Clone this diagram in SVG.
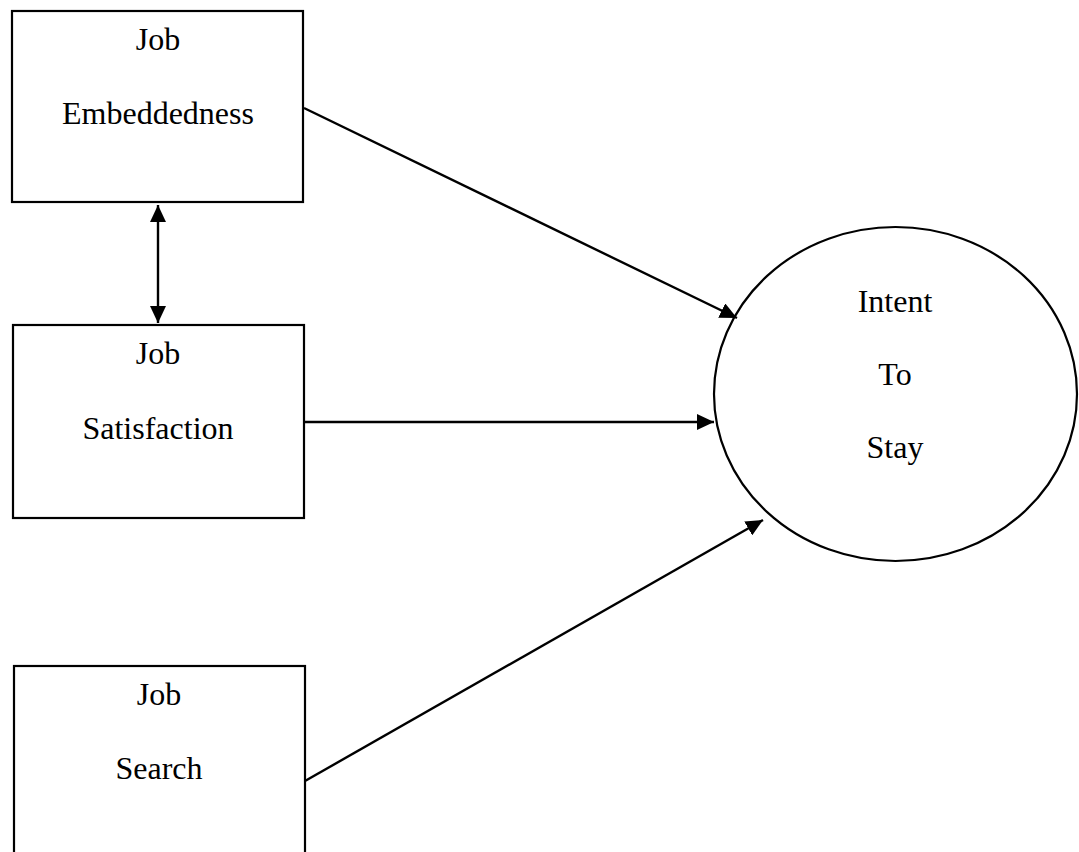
<svg xmlns="http://www.w3.org/2000/svg" width="1079" height="852" viewBox="0 0 1079 852">
<style>
.box{fill:#fff;stroke:#000;stroke-width:2.2}
.lbl{font-family:"Liberation Serif","Times New Roman",serif;font-size:32px;fill:#000;text-anchor:middle}
.conn{stroke:#000;stroke-width:2.4;fill:none}
</style>
<defs>
<marker id="ah" markerUnits="userSpaceOnUse" markerWidth="18" markerHeight="16" refX="17" refY="8" orient="auto-start-reverse">
<path d="M0,0 L17,8 L0,16 Z" fill="#000"/>
</marker>
</defs>
<rect width="1079" height="852" fill="#fff"/>
<g id="node-embeddedness">
<rect class="box" x="12" y="11" width="291" height="191"/>
<text class="lbl" x="158" y="50">Job</text>
<text class="lbl" x="158" y="124">Embeddedness</text>
</g>
<g id="node-satisfaction">
<rect class="box" x="13" y="325" width="291" height="193"/>
<text class="lbl" x="158" y="364">Job</text>
<text class="lbl" x="158" y="439">Satisfaction</text>
</g>
<g id="node-search">
<rect class="box" x="14" y="666" width="291" height="200"/>
<text class="lbl" x="159" y="705">Job</text>
<text class="lbl" x="159" y="779">Search</text>
</g>
<g id="node-intent">
<ellipse class="box" cx="895.5" cy="394" rx="181.5" ry="167"/>
<text class="lbl" x="895" y="312">Intent</text>
<text class="lbl" x="895" y="385">To</text>
<text class="lbl" x="895" y="458">Stay</text>
</g>
<g id="connectors">
<line class="conn" x1="304" y1="108" x2="737" y2="318" marker-end="url(#ah)"/>
<line class="conn" x1="304" y1="422" x2="714" y2="422" marker-end="url(#ah)"/>
<line class="conn" x1="305" y1="781" x2="763" y2="520" marker-end="url(#ah)"/>
<line class="conn" x1="158" y1="205" x2="158" y2="323" marker-start="url(#ah)" marker-end="url(#ah)"/>
</g>
</svg>
